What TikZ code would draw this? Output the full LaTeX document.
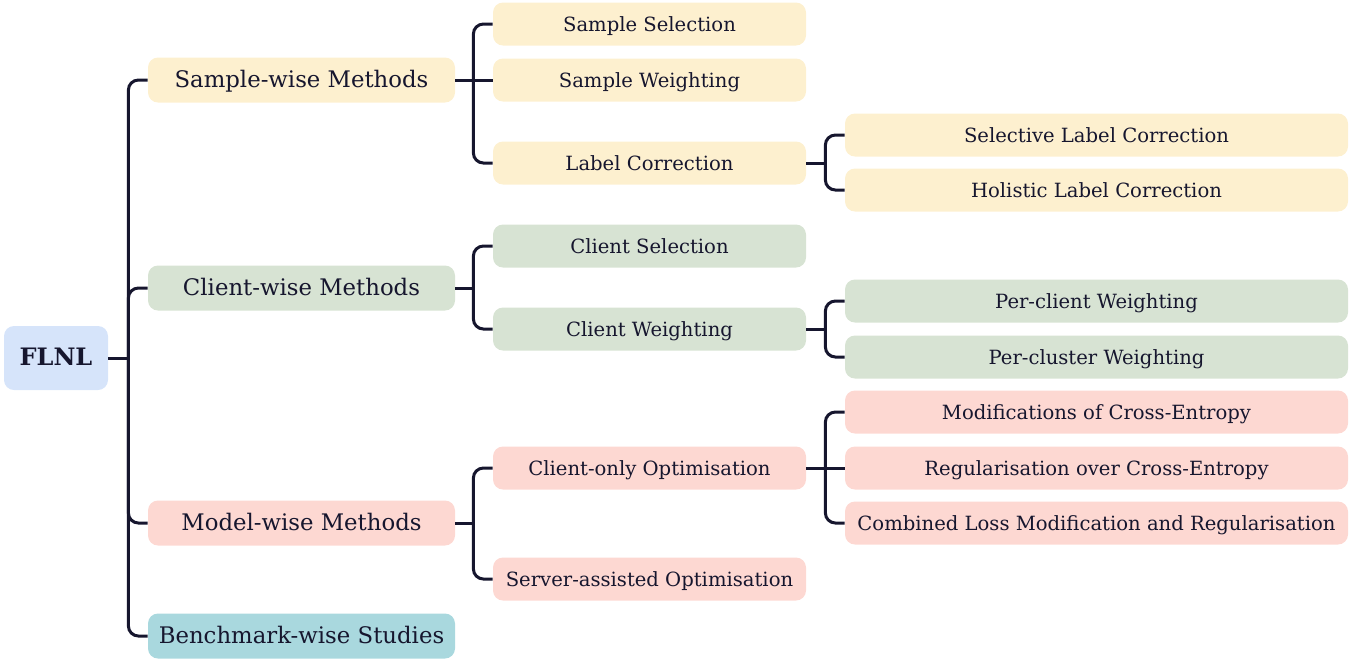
\documentclass[tikz,border=0pt]{standalone}
\usepackage{fontspec}
\setmainfont{DejaVu Serif}
\usetikzlibrary{positioning,calc}

\definecolor{ink}{HTML}{16162E}
\definecolor{rootblue}{HTML}{D6E4FA}
\definecolor{sampleyel}{HTML}{FDF0CF}
\definecolor{clientgrn}{HTML}{D7E3D3}
\definecolor{modelpink}{HTML}{FDD8D2}
\definecolor{benchteal}{HTML}{A9D8DE}

\tikzset{
  box/.style={fill=#1, rounded corners=5pt, text=ink, inner sep=0pt,
    text height=0.84em, text depth=0.14em},
  rootbox/.style={box=rootblue, minimum width=52pt, minimum height=32pt,
    font=\fontsize{12}{14}\selectfont\bfseries},
  catbox/.style={box=#1, minimum width=153.5pt, minimum height=22.5pt,
    font=\fontsize{11.4}{13}\selectfont},
  subbox/.style={box=#1, minimum width=156.5pt, minimum height=21.5pt,
    font=\fontsize{9.8}{11}\selectfont},
  leafbox/.style={box=#1, minimum width=251.5pt, minimum height=21.5pt,
    font=\fontsize{9.8}{11}\selectfont},
  link/.style={draw=ink, line width=1.5pt, rounded corners=5pt},
}

\begin{document}
\begin{tikzpicture}[x=0.5pt, y=-0.5pt]
  \useasboundingbox (0,0) rectangle (1356,661);

  % root
  \node[rootbox] (flnl) at (56,358) {FLNL};

  % first level
  \node[catbox=sampleyel] (sample) at (301.5,80)  {Sample-wise Methods};
  \node[catbox=clientgrn] (client) at (301.5,288) {Client-wise Methods};
  \node[catbox=modelpink] (model)  at (301.5,523) {Model-wise Methods};
  \node[catbox=benchteal] (bench)  at (301.5,636) {Benchmark-wise Studies};

  % second level
  \node[subbox=sampleyel] (ssel)  at (649.5,24)  {Sample Selection};
  \node[subbox=sampleyel] (swgt)  at (649.5,80)  {Sample Weighting};
  \node[subbox=sampleyel] (lcor)  at (649.5,163) {Label Correction};
  \node[subbox=clientgrn] (csel)  at (649.5,246) {Client Selection};
  \node[subbox=clientgrn] (cwgt)  at (649.5,329) {Client Weighting};
  \node[subbox=modelpink] (copt)  at (649.5,468) {Client-only Optimisation};
  \node[subbox=modelpink] (sopt)  at (649.5,579) {Server-assisted Optimisation};

  % third level
  \node[leafbox=sampleyel] (lsel) at (1096.5,135) {Selective Label Correction};
  \node[leafbox=sampleyel] (lhol) at (1096.5,190) {Holistic Label Correction};
  \node[leafbox=clientgrn] (pcli) at (1096.5,301) {Per-client Weighting};
  \node[leafbox=clientgrn] (pclu) at (1096.5,357) {Per-cluster Weighting};
  \node[leafbox=modelpink] (mce)  at (1096.5,412) {Modifications of Cross-Entropy};
  \node[leafbox=modelpink] (rce)  at (1096.5,468) {Regularisation over Cross-Entropy};
  \node[leafbox=modelpink] (comb) at (1096.5,523) {Combined Loss Modification and Regularisation};

  % branching points
  \coordinate (jroot)   at ($(flnl.east)+(20,0)$);
  \coordinate (jsample) at ($(sample.east)+(18,0)$);
  \coordinate (jclient) at ($(client.east)+(18,0)$);
  \coordinate (jmodel)  at ($(model.east)+(18,0)$);
  \coordinate (jlcor)   at ($(lcor.east)+(19,0)$);
  \coordinate (jcwgt)   at ($(cwgt.east)+(19,0)$);
  \coordinate (jcopt)   at ($(copt.east)+(19,0)$);

  % connectors
  \draw[link] (flnl.east) -- (jroot);
  \foreach \c in {sample,client,model,bench}
    \draw[link] (jroot) |- (\c.west);

  % children level with their parent get a straight line
  \draw[link] (sample.east) -- (swgt.west);
  \foreach \c in {ssel,lcor}
    \draw[link] (jsample) |- (\c.west);

  \draw[link] (client.east) -- (jclient);
  \foreach \c in {csel,cwgt}
    \draw[link] (jclient) |- (\c.west);

  \draw[link] (model.east) -- (jmodel);
  \foreach \c in {copt,sopt}
    \draw[link] (jmodel) |- (\c.west);

  \draw[link] (lcor.east) -- (jlcor);
  \foreach \c in {lsel,lhol}
    \draw[link] (jlcor) |- (\c.west);

  \draw[link] (cwgt.east) -- (jcwgt);
  \foreach \c in {pcli,pclu}
    \draw[link] (jcwgt) |- (\c.west);

  \draw[link] (copt.east) -- (rce.west);
  \foreach \c in {mce,comb}
    \draw[link] (jcopt) |- (\c.west);
\end{tikzpicture}
\end{document}
